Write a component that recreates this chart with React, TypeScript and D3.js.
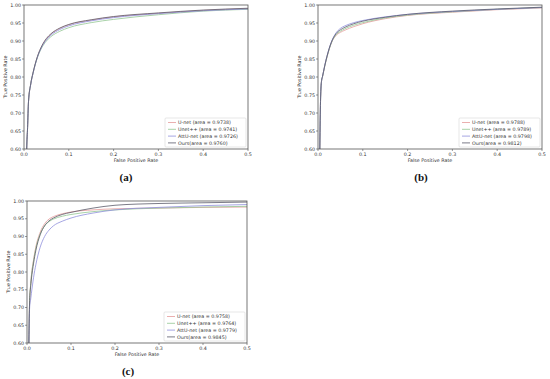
import * as d3 from "d3"

// false positive rate sample points (shared by all curves)
const fpr = [0, 0.006, 0.008, 0.01, 0.015, 0.02, 0.03, 0.04, 0.05, 0.06, 0.08, 0.1, 0.15, 0.2, 0.3, 0.4, 0.5]

// panel (a)
const aUnet = [0, 0.6, 0.66, 0.73, 0.78, 0.81, 0.856, 0.886, 0.906, 0.919, 0.935, 0.945, 0.958, 0.967, 0.977, 0.985, 0.99]
const aUnetpp = [0, 0.6, 0.66, 0.73, 0.78, 0.81, 0.854, 0.882, 0.9, 0.912, 0.927, 0.937, 0.951, 0.96, 0.973, 0.983, 0.988]
const aAttU = [0, 0.6, 0.66, 0.73, 0.779, 0.809, 0.855, 0.884, 0.903, 0.916, 0.932, 0.942, 0.956, 0.965, 0.976, 0.984, 0.989]
const aOurs = [0, 0.6, 0.66, 0.731, 0.781, 0.811, 0.857, 0.887, 0.907, 0.92, 0.936, 0.946, 0.959, 0.968, 0.978, 0.986, 0.991]

// panel (b)
const bUnet = [0, 0.75, 0.79, 0.8, 0.83, 0.855, 0.895, 0.915, 0.924, 0.93, 0.94, 0.948, 0.962, 0.971, 0.98, 0.987, 0.992]
const bUnetpp = [0, 0.75, 0.79, 0.8, 0.83, 0.855, 0.895, 0.917, 0.927, 0.934, 0.944, 0.951, 0.964, 0.972, 0.981, 0.988, 0.993]
const bAttU = [0, 0.75, 0.79, 0.801, 0.832, 0.858, 0.898, 0.922, 0.935, 0.942, 0.951, 0.957, 0.967, 0.974, 0.982, 0.988, 0.993]
const bOurs = [0, 0.75, 0.79, 0.801, 0.831, 0.857, 0.897, 0.92, 0.931, 0.938, 0.948, 0.955, 0.966, 0.974, 0.983, 0.989, 0.994]

// panel (c)
const cUnet = [0, 0.72, 0.76, 0.79, 0.835, 0.87, 0.912, 0.936, 0.949, 0.956, 0.964, 0.969, 0.975, 0.978, 0.98, 0.982, 0.983]
const cUnetpp = [0, 0.72, 0.76, 0.788, 0.832, 0.866, 0.907, 0.93, 0.942, 0.949, 0.957, 0.962, 0.97, 0.975, 0.98, 0.983, 0.985]
const cAttU = [0, 0.7, 0.72, 0.74, 0.785, 0.82, 0.87, 0.9, 0.918, 0.93, 0.943, 0.952, 0.966, 0.975, 0.982, 0.987, 0.99]
const cOurs = [0, 0.72, 0.755, 0.78, 0.825, 0.86, 0.905, 0.93, 0.944, 0.952, 0.962, 0.968, 0.98, 0.988, 0.993, 0.995, 0.997]

const seriesNames = ["U-net", "Unet++", "AttU-net", "Ours"]
const seriesColors = ["#e49a9a", "#93c793", "#8f8fdc", "#5a5a6a"]

const aAreas = ["0.9738", "0.9741", "0.9726", "0.9760"]
const bAreas = ["0.9788", "0.9789", "0.9798", "0.9812"]
const cAreas = ["0.9758", "0.9764", "0.9779", "0.9845"]

const xTicks = [0, 0.1, 0.2, 0.3, 0.4, 0.5]
const yTicks = [0.6, 0.65, 0.7, 0.75, 0.8, 0.85, 0.9, 0.95, 1.0]

const panels = [
  { id: "pa", label: "(a)", series: [aUnet, aUnetpp, aAttU, aOurs], areas: aAreas, x: 24, y: 5, w: 224, h: 144, lx: 126, ly: 181 },
  { id: "pb", label: "(b)", series: [bUnet, bUnetpp, bAttU, bOurs], areas: bAreas, x: 318, y: 5, w: 224, h: 144, lx: 421, ly: 181 },
  { id: "pc", label: "(c)", series: [cUnet, cUnetpp, cAttU, cOurs], areas: cAreas, x: 27, y: 201, w: 220, h: 142, lx: 128, ly: 375 },
]

const font = "DejaVu Sans, sans-serif"

function RocPanel({ p }: { p: (typeof panels)[0] }) {
  const xScale = d3.scaleLinear().domain([0, 0.5]).range([0, p.w])
  const yScale = d3.scaleLinear().domain([0.6, 1.0]).range([p.h, 0])
  const line = d3
    .line<number>()
    .x((_, i) => xScale(fpr[i]))
    .y((d) => yScale(d))
    .curve(d3.curveMonotoneX)

  const legW = 81
  const legH = 29
  const legX = p.w - legW - 2
  const legY = p.h - legH - 2

  return (
    <g>
      <g transform={`translate(${p.x},${p.y})`}>
        <defs>
          <clipPath id={`clip-${p.id}`}>
            <rect width={p.w} height={p.h} />
          </clipPath>
        </defs>
        <g clipPath={`url(#clip-${p.id})`}>
          {p.series.map((s, i) => (
            <path key={i} d={line(s) || ""} fill="none" stroke={seriesColors[i]} strokeWidth={0.8} />
          ))}
        </g>
        <rect width={p.w} height={p.h} fill="none" stroke="#555" strokeWidth={0.8} />
        {xTicks.map((t) => (
          <g key={t} transform={`translate(${xScale(t)},${p.h})`}>
            <line y2={2} stroke="#555" strokeWidth={0.6} />
            <text y={7} textAnchor="middle" fontSize={4.8} fontFamily={font} fill="#333">
              {t.toFixed(1)}
            </text>
          </g>
        ))}
        {yTicks.map((t) => (
          <g key={t} transform={`translate(0,${yScale(t)})`}>
            <line x2={-2} stroke="#555" strokeWidth={0.6} />
            <text x={-3} dy="0.35em" textAnchor="end" fontSize={4.8} fontFamily={font} fill="#333">
              {t.toFixed(2)}
            </text>
          </g>
        ))}
        <text x={p.w / 2} y={p.h + 13} textAnchor="middle" fontSize={4.8} fontFamily={font} fill="#333">
          False Positive Rate
        </text>
        <text
          transform={`translate(-17,${p.h / 2}) rotate(-90)`}
          textAnchor="middle"
          fontSize={4.8}
          fontFamily={font}
          fill="#333"
        >
          True Positive Rate
        </text>
        <g transform={`translate(${legX},${legY})`}>
          <rect width={legW} height={legH} rx={1} fill="white" stroke="#ccc" strokeWidth={0.5} />
          {seriesNames.map((n, i) => (
            <g key={n} transform={`translate(0,${4.5 + i * 6.8})`}>
              <line x1={3} x2={11} stroke={seriesColors[i]} strokeWidth={0.8} />
              <text x={13} dy="0.35em" fontSize={4.8} fontFamily={font} fill="#333">
                {i === 3 ? `${n}(area = ${p.areas[i]})` : `${n} (area = ${p.areas[i]})`}
              </text>
            </g>
          ))}
        </g>
      </g>
      <text x={p.lx} y={p.ly} textAnchor="middle" fontSize={11} fontWeight="bold" fontFamily="Liberation Serif, serif" fill="#111">
        {p.label}
      </text>
    </g>
  )
}

export default function App() {
  return (
    <svg width={550} height={379} style={{ position: "absolute", left: 0, top: 0, background: "white" }}>
      <rect width={550} height={379} fill="white" />
      {panels.map((p) => (
        <RocPanel key={p.id} p={p} />
      ))}
    </svg>
  )
}
